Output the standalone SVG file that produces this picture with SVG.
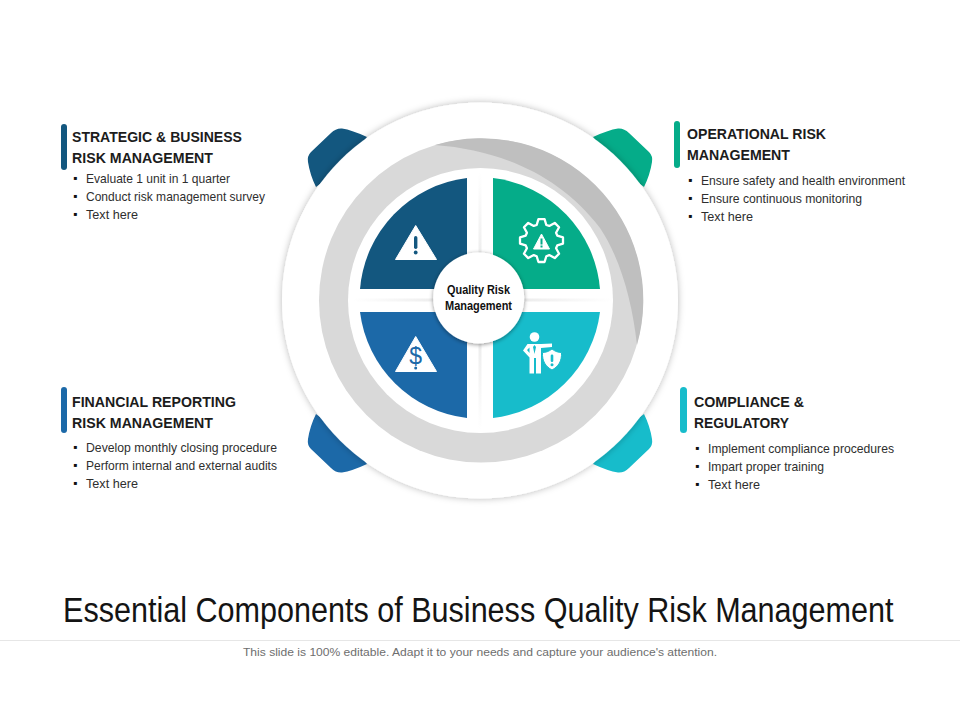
<svg xmlns="http://www.w3.org/2000/svg" width="960" height="720" viewBox="0 0 960 720">
<style>
text{font-family:"Liberation Sans",Arial,sans-serif;fill:#1a1a1a}
.h{font-size:15.5px;font-weight:700;fill:#1c1c1c}
.b{font-size:13.500px;fill:#2e2e2e}
.m{font-size:12px;fill:#111}
.c{font-size:12.500px;font-weight:700;fill:#111;text-anchor:middle}
.w{fill:#fff}
</style>
<defs>
<filter id="sh" x="-15%" y="-15%" width="130%" height="130%"><feDropShadow dx="0" dy="0" stdDeviation="3.500" flood-color="#000" flood-opacity=".28"/></filter>
<filter id="sh2" x="-20%" y="-20%" width="140%" height="140%"><feDropShadow dx="0" dy="1" stdDeviation="2" flood-color="#000" flood-opacity=".45"/></filter>
<linearGradient id="hl" x1="0" x2="1" y1="0" y2="0"><stop offset="0" stop-color="#e6e6e6" stop-opacity="0"/><stop offset=".5" stop-color="#e2e2e2"/><stop offset="1" stop-color="#e6e6e6" stop-opacity="0"/></linearGradient>
<linearGradient id="vl" x1="0" x2="0" y1="0" y2="1"><stop offset="0" stop-color="#e6e6e6" stop-opacity="0"/><stop offset=".5" stop-color="#e2e2e2"/><stop offset="1" stop-color="#e6e6e6" stop-opacity="0"/></linearGradient>
<path id="petal" d="M367,137 Q352,130 342,128.500 Q336,128 331,133 L311,152 Q307,156 308,162 Q310,175 316,187 L345,165 Z"/>
</defs>
<rect width="960" height="720" fill="#fff"/>

<g id="petals">
<use href="#petal" fill="#13577f"/>
<use href="#petal" fill="#05ac89" transform="matrix(-1 0 0 1 960 0)"/>
<use href="#petal" fill="#1c69a8" transform="matrix(1 0 0 -1 0 601)"/>
<use href="#petal" fill="#17bccb" transform="matrix(-1 0 0 -1 960 601)"/>
</g>

<g id="wheel">
<circle cx="480" cy="300.500" r="198" fill="#fff" filter="url(#sh)"/>
<circle cx="481" cy="300.500" r="162" fill="#d9d9d9"/>
<path d="M435,145 A162,162 0 0 1 637,345 C632,300 620,258 600,228 C560,175 500,150 435,145 Z" fill="#bfbfbf"/>
<circle cx="480.500" cy="300.500" r="132.500" fill="#fff"/>
<rect x="352" y="298.500" width="260" height="3" fill="url(#hl)"/>
<rect x="478.500" y="172" width="3" height="258" fill="url(#vl)"/>
</g>

<g id="q-strategic">
<path d="M467,289 H360 A122,122 0 0 1 467,178 Z" fill="#13577f"/>
<path class="w" d="M415.700,225.500 L436.500,259.500 H395.500 Z" stroke="#fff" stroke-width="1" stroke-linejoin="round"/>
<rect x="414" y="236" width="3.400" height="13" rx="1.700" fill="#13577f"/>
<circle cx="415.700" cy="252.500" r="1.900" fill="#13577f"/>
</g>
<g id="q-operational">
<path d="M493,289 H600 A122,122 0 0 0 493,178 Z" fill="#05ac89"/>
<path fill="none" stroke="#fff" stroke-width="2.300" stroke-linejoin="round" transform="translate(541.500,240.500)" d="M3.060,-21.300 L4.820,-15.500 L7.750,-14.570 L13.240,-17.570 L17.570,-13.240 L14.570,-7.750 L15.780,-4.820 L21.500,-3.060 V3.060 L15.780,4.820 L14.570,7.750 L17.570,13.240 L13.240,17.570 L7.750,14.570 L4.820,15.780 L3.060,21.500 H-3.060 L-4.820,15.780 L-7.750,14.570 L-13.240,17.570 L-17.570,13.240 L-14.570,7.750 L-15.780,4.820 L-21.500,3.060 V-3.060 L-15.780,-4.820 L-14.570,-7.750 L-17.570,-13.240 L-13.240,-17.570 L-7.750,-14.570 L-4.820,-15.500 L-3.060,-21.300 Z"/>
<path class="w" d="M541.500,234 L549.500,249 H533.500 Z" stroke="#fff" stroke-linejoin="round"/>
<rect x="540.500" y="238.500" width="2" height="6" fill="#05ac89"/>
<rect x="540.500" y="245.500" width="2" height="2" fill="#05ac89"/>
</g>
<g id="q-financial">
<path d="M467,312 H360 A122,122 0 0 0 467,418 Z" fill="#1c69a8"/>
<path class="w" d="M415.700,336.500 L436.500,371.500 H395.500 Z" stroke="#fff" stroke-width="1" stroke-linejoin="round"/>
<text x="415.700" y="364" font-size="23" text-anchor="middle" style="fill:#1c69a8">$</text>
<circle cx="415.700" cy="368" r="1.500" fill="#1c69a8"/>
</g>
<g id="q-compliance">
<path d="M493,312 H600 A122,122 0 0 1 493,418 Z" fill="#17bccb"/>
<circle class="w" cx="534.500" cy="337" r="4.800"/>
<path class="w" d="M527.500,344 L541,344 L552,343.500 V347 L541,348 V373.500 L536,373.500 V358 H534 V373.500 H529.500 V357.500 L523,350.500 Z"/>
<path d="M527,350 L529.500,347.500 V353 Z M534.500,345 L533,347 L534.500,354 L536,347 Z" fill="#17bccb"/>
<path class="w" stroke="#17bccb" stroke-width="1" d="M552,349 C555,351.500 558.500,352.500 561.500,352.500 C562,361 558.500,366.500 552,370 C545.500,366.500 542,361 542.500,352.500 C545.500,352.500 549,351.500 552,349 Z"/>
<rect x="550.700" y="354.500" width="2.600" height="7.500" rx="1.200" fill="#17bccb"/>
<circle cx="552" cy="364.800" r="1.500" fill="#17bccb"/>
</g>

<g id="center">
<circle cx="478.700" cy="298" r="45.500" fill="#fff" filter="url(#sh2)"/>
<text class="c" x="478.500" y="294" textLength="63" lengthAdjust="spacingAndGlyphs">Quality Risk</text>
<text class="c" x="478.500" y="310" textLength="67" lengthAdjust="spacingAndGlyphs">Management</text>
</g>

<g id="strategic">
<rect x="61" y="124" width="6" height="46" rx="3" fill="#13577f"/>
<text class="h" x="72" y="142" textLength="170" lengthAdjust="spacingAndGlyphs">STRATEGIC &amp; BUSINESS</text>
<text class="h" x="72" y="163" textLength="141" lengthAdjust="spacingAndGlyphs">RISK MANAGEMENT</text>
<text class="m" x="73" y="182">▪</text><text class="b" x="86" y="183" textLength="144" lengthAdjust="spacingAndGlyphs">Evaluate 1 unit in 1 quarter</text>
<text class="m" x="73" y="200">▪</text><text class="b" x="86" y="201" textLength="179" lengthAdjust="spacingAndGlyphs">Conduct risk management survey</text>
<text class="m" x="73" y="218">▪</text><text class="b" x="86" y="219" textLength="52" lengthAdjust="spacingAndGlyphs">Text here</text>
</g>
<g id="operational">
<rect x="674" y="121" width="6" height="47" rx="3" fill="#05ac89"/>
<text class="h" x="687" y="139" textLength="139" lengthAdjust="spacingAndGlyphs">OPERATIONAL RISK</text>
<text class="h" x="687" y="160" textLength="103" lengthAdjust="spacingAndGlyphs">MANAGEMENT</text>
<text class="m" x="688" y="184">▪</text><text class="b" x="701" y="185" textLength="204" lengthAdjust="spacingAndGlyphs">Ensure safety and health environment</text>
<text class="m" x="688" y="202">▪</text><text class="b" x="701" y="203" textLength="161" lengthAdjust="spacingAndGlyphs">Ensure continuous monitoring</text>
<text class="m" x="688" y="220">▪</text><text class="b" x="701" y="221" textLength="52" lengthAdjust="spacingAndGlyphs">Text here</text>
</g>
<g id="financial">
<rect x="61" y="387" width="6" height="46" rx="3" fill="#1c69a8"/>
<text class="h" x="72" y="407" textLength="164" lengthAdjust="spacingAndGlyphs">FINANCIAL REPORTING</text>
<text class="h" x="72" y="428" textLength="141" lengthAdjust="spacingAndGlyphs">RISK MANAGEMENT</text>
<text class="m" x="73" y="451">▪</text><text class="b" x="86" y="452" textLength="191" lengthAdjust="spacingAndGlyphs">Develop monthly closing procedure</text>
<text class="m" x="73" y="469">▪</text><text class="b" x="86" y="470" textLength="191" lengthAdjust="spacingAndGlyphs">Perform internal and external audits</text>
<text class="m" x="73" y="487">▪</text><text class="b" x="86" y="488" textLength="52" lengthAdjust="spacingAndGlyphs">Text here</text>
</g>
<g id="compliance">
<rect x="680" y="387" width="7" height="46" rx="3.500" fill="#17bccb"/>
<text class="h" x="694" y="407" textLength="110" lengthAdjust="spacingAndGlyphs">COMPLIANCE &amp;</text>
<text class="h" x="694" y="428" textLength="95" lengthAdjust="spacingAndGlyphs">REGULATORY</text>
<text class="m" x="695" y="452">▪</text><text class="b" x="708" y="453" textLength="186" lengthAdjust="spacingAndGlyphs">Implement compliance procedures</text>
<text class="m" x="695" y="470">▪</text><text class="b" x="708" y="471" textLength="116" lengthAdjust="spacingAndGlyphs">Impart proper training</text>
<text class="m" x="695" y="488">▪</text><text class="b" x="708" y="489" textLength="52" lengthAdjust="spacingAndGlyphs">Text here</text>
</g>

<text transform="translate(63,621.500) scale(.8494,1)" font-size="36" style="fill:#141414">Essential Components of Business Quality Risk Management</text>
<rect x="0" y="640" width="960" height="1" fill="#e6e6e6"/>
<text x="243" y="656" font-size="11.500" textLength="474" lengthAdjust="spacingAndGlyphs" style="fill:#6e6e6e">This slide is 100% editable. Adapt it to your needs and capture your audience's attention.</text>
</svg>
